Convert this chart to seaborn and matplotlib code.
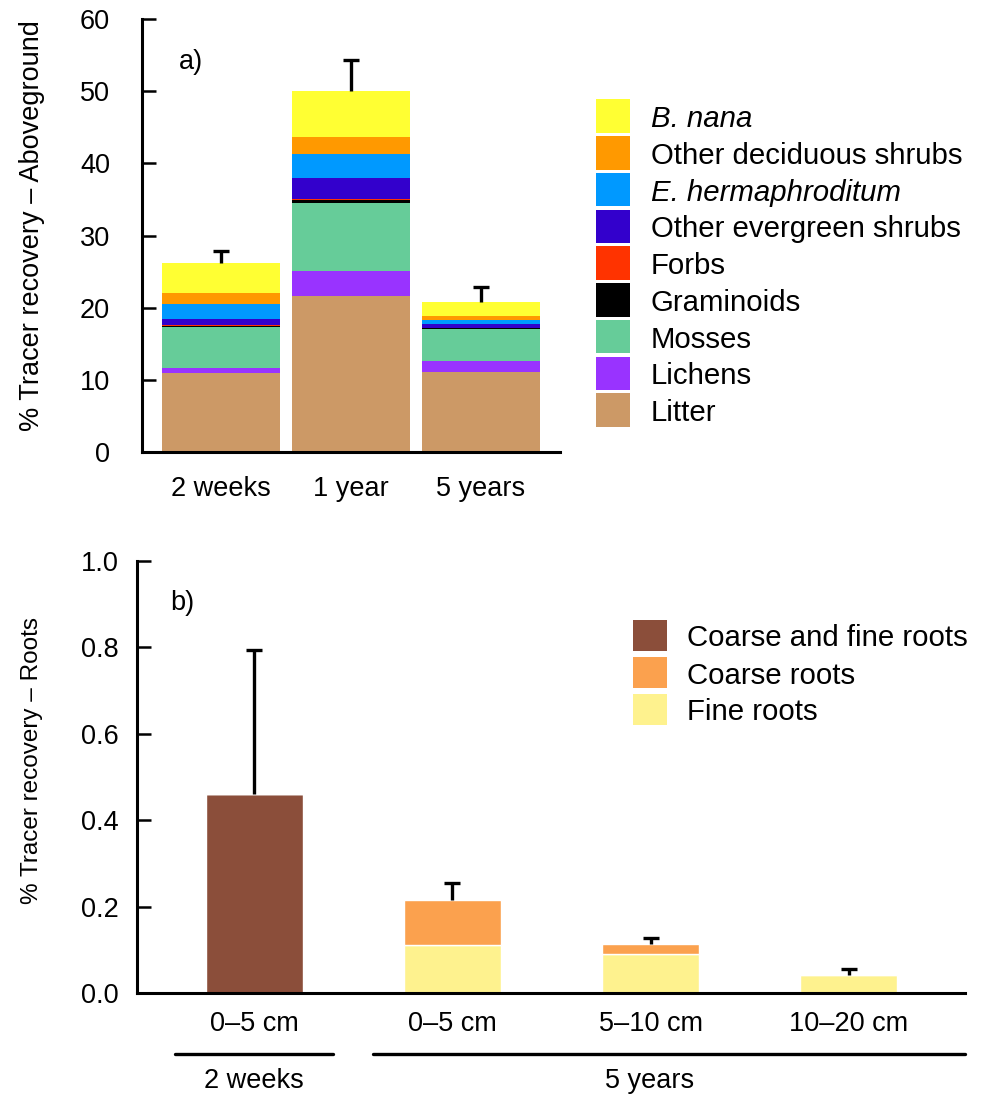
import numpy as np
import matplotlib
matplotlib.use("Agg")
import matplotlib.pyplot as plt
import seaborn as sns
from matplotlib.patches import Rectangle
from matplotlib.lines import Line2D

# ---- aboveground tracer recovery (%), stacked by plant group ----
times = ["2 weeks", "1 year", "5 years"]
litter = [10.95, 21.60, 11.08]
lichens = [0.70, 3.50, 1.53]
mosses = [5.68, 9.40, 4.50]
graminoids = [0.15, 0.45, 0.05]
forbs = [0.12, 0.10, 0.03]
other_evergreen = [0.84, 2.95, 0.55]
e_hermaphroditum = [2.07, 3.30, 0.55]
other_deciduous = [1.53, 2.35, 0.55]
b_nana = [4.16, 6.35, 1.94]
above_err = [1.60, 4.30, 2.04]

above_names = ["Litter", "Lichens", "Mosses", "Graminoids", "Forbs",
               "Other evergreen shrubs", "E. hermaphroditum",
               "Other deciduous shrubs", "B. nana"]
above_colors = ["#CC9966", "#9933FF", "#66CC99", "#000000", "#FF3300",
                "#3300CC", "#0099FF", "#FF9900", "#FFFF33"]
italic_names = {"B. nana", "E. hermaphroditum"}

# ---- root tracer recovery (%), by sampling time and depth ----
root_keys = ["2w_0-5", "5y_0-5", "5y_5-10", "5y_10-20"]
depth_labels = ["0–5 cm", "0–5 cm", "5–10 cm", "10–20 cm"]
coarse_and_fine = [0.461, 0.0, 0.0, 0.0]
fine_roots = [0.0, 0.112, 0.090, 0.041]
coarse_roots = [0.0, 0.103, 0.023, 0.0]
root_err = [0.334, 0.039, 0.014, 0.014]
root_names = ["Coarse and fine roots", "Coarse roots", "Fine roots"]
root_colors = ["#8B4E3A", "#FBA14E", "#FEF28E"]
time_groups = ["2 weeks", "5 years"]

W, H = 984, 1096
sns.set_theme(style="white")
plt.rcParams["font.family"] = ["Liberation Sans", "DejaVu Sans"]
plt.rcParams.update({"text.color": "black", "axes.labelcolor": "black",
                     "xtick.color": "black", "ytick.color": "black"})

TICK_FS = 19.5
LEG_FS = 21.2

fig = plt.figure(figsize=(W / 100, H / 100), dpi=100)


def fx(px):
    return px / W


def fy(py):
    return 1 - py / H


def stack(ax, cats, layers, colors, width, **kw):
    bottom = np.zeros(len(cats))
    for vals, col in zip(layers, colors):
        vals = np.asarray(vals, dtype=float)
        sns.barplot(x=cats, y=vals, order=cats, color=col, saturation=1,
                    width=width, bottom=bottom.copy(), errorbar=None,
                    ax=ax, **kw)
        bottom += vals
    return bottom


def upper_errorbars(ax, totals, err):
    x = np.arange(len(totals))
    _, caps, _ = ax.errorbar(x, totals, yerr=[np.zeros(len(totals)), err],
                             fmt="none", ecolor="black", elinewidth=2.4,
                             capsize=5.5, capthick=2.4)
    # keep only the cap at the upper end of each bar
    for cap in caps:
        if np.allclose(cap.get_ydata(), totals):
            cap.set_visible(False)


def style_axes(ax, ypad):
    sns.despine(ax=ax)
    for s in ("left", "bottom"):
        ax.spines[s].set_linewidth(2.2)
        ax.spines[s].set_color("black")
    ax.tick_params(axis="y", left=True, direction="in", length=10,
                   width=1.8, labelsize=TICK_FS, pad=ypad, colors="black")
    ax.set_xlabel("")
    ax.set_ylabel("")


# ---------------- panel a ----------------
ax1 = fig.add_axes([fx(142), fy(452), fx(560) - fx(142), fy(19) - fy(452)])
layers = [litter, lichens, mosses, graminoids, forbs, other_evergreen,
          e_hermaphroditum, other_deciduous, b_nana]
tot1 = stack(ax1, times, layers, above_colors, 0.908, linewidth=0)
upper_errorbars(ax1, tot1, above_err)
ax1.set_xlim(-0.6077, 2.6077)
ax1.set_ylim(0, 60)
ax1.set_yticks(np.arange(0, 61, 10))
style_axes(ax1, 23)
ax1.tick_params(axis="x", bottom=False, length=0, labelsize=TICK_FS, pad=17)
fig.text(fx(179), fy(69), "a)", fontsize=19.5, ha="left", va="baseline")
fig.text(fx(32), fy(226), "% Tracer recovery – Aboveground", rotation=90,
         fontsize=TICK_FS, ha="center", va="center")

# legend for panel a (top entry = top of stack)
pitch = 36.75
for i, (name, col) in enumerate(zip(above_names[::-1], above_colors[::-1])):
    top = 99.3 + i * pitch
    fig.add_artist(Rectangle((fx(596), fy(top + 33.5)), fx(630) - fx(596),
                             fy(top) - fy(top + 33.5), facecolor=col,
                             edgecolor="none", transform=fig.transFigure))
    fig.text(fx(651), fy(top + 16.8), name, fontsize=LEG_FS, ha="left",
             va="center_baseline",
             style="italic" if name in italic_names else "normal")

# ---------------- panel b ----------------
ax2 = fig.add_axes([fx(137), fy(993), fx(965) - fx(137), fy(561) - fy(993)])
tot2 = stack(ax2, root_keys, [coarse_and_fine, fine_roots, coarse_roots],
             [root_colors[0], root_colors[2], root_colors[1]], 0.49,
             linewidth=1.0, edgecolor="white")
upper_errorbars(ax2, tot2, root_err)
ax2.set_xlim(-0.593, 3.588)
ax2.set_ylim(0, 1.0)
ax2.set_yticks(np.arange(0, 1.01, 0.2))
ax2.set_yticklabels([f"{v:.1f}" for v in np.arange(0, 1.01, 0.2)])
ax2.set_xticks(np.arange(len(root_keys)))
ax2.set_xticklabels(depth_labels)
style_axes(ax2, 13)
ax2.tick_params(axis="x", bottom=False, length=0, labelsize=TICK_FS, pad=13)
fig.text(fx(170), fy(610), "b)", fontsize=19.5, ha="left", va="baseline")
fig.text(fx(32), fy(760), "% Tracer recovery – Roots", rotation=90,
         fontsize=17.5, ha="center", va="center")

# legend for panel b
for i, (name, col) in enumerate(zip(root_names, root_colors)):
    top = 620 + i * 37
    fig.add_artist(Rectangle((fx(633), fy(top + 31)), fx(667) - fx(633),
                             fy(top) - fy(top + 31), facecolor=col,
                             edgecolor="none", transform=fig.transFigure))
    fig.text(fx(687), fy(top + 15.5), name, fontsize=LEG_FS, ha="left",
             va="center_baseline")

# sampling-time brackets under the depth labels
for (x0, x1), label, xc in zip([(175, 333), (373, 965)], time_groups,
                               [254, 650]):
    fig.add_artist(Line2D([fx(x0), fx(x1)], [fy(1054), fy(1054)],
                          color="black", linewidth=2.4,
                          transform=fig.transFigure))
    fig.text(fx(xc), fy(1088), label, fontsize=TICK_FS, ha="center",
             va="baseline")

fig.savefig("out.png", dpi=100)
